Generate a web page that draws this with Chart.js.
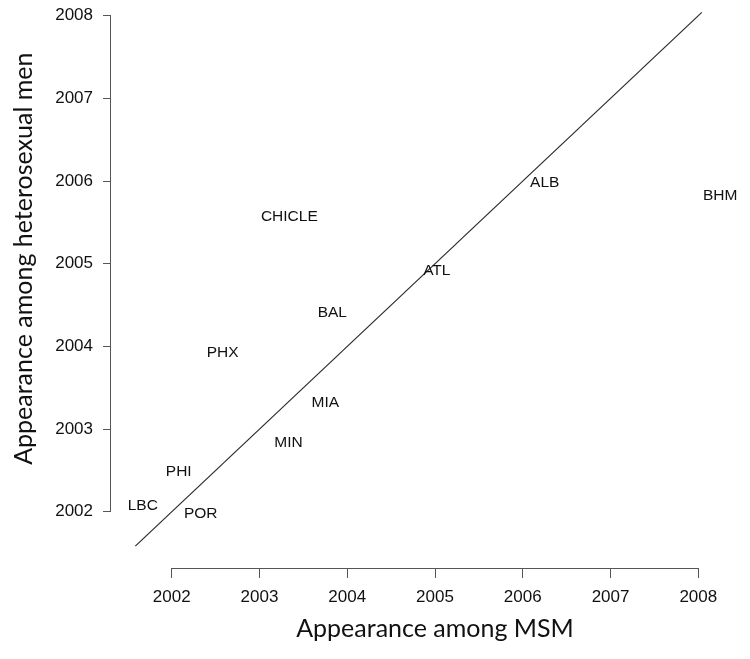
<!DOCTYPE html>
<html>
<head>
<meta charset="utf-8">
<script src="https://cdn.jsdelivr.net/npm/chart.js@4"></script>
<style>
  body { margin: 0; background: #fff; }
  #wrap { width: 750px; height: 659px; }
</style>
</head>
<body>
<div id="wrap"><canvas id="appearanceChart" width="750" height="659"></canvas></div>
<script>
// city codes, year of appearance among MSM (x) and among heterosexual men (y)
const cities = ['LBC', 'POR', 'PHI', 'MIN', 'MIA', 'PHX', 'BAL', 'ATL', 'CHICLE', 'ALB', 'BHM'];
const msmYear = [2001.67, 2002.33, 2002.08, 2003.33, 2003.75, 2002.58, 2003.83, 2005.02, 2003.34, 2006.25, 2008.25];
const heteroYear = [2002.07, 2001.98, 2002.49, 2002.83, 2003.32, 2003.92, 2004.41, 2004.91, 2005.57, 2005.98, 2005.82];
const yearTicks = [2002, 2003, 2004, 2005, 2006, 2007, 2008];
// y = x reference line
const diagonalEnds = [2001.585, 2008.04];

const tickFont = { family: "'Liberation Sans', Arial, sans-serif", size: 17 };
const titleFont = "25px Lato, 'Open Sans', sans-serif";

// R-style axes: line only between first and last tick, titles centred on that range
const axisLines = {
  id: 'axisLines',
  afterDraw(chart) {
    const ctx = chart.ctx;
    const xs = chart.scales.x, ys = chart.scales.y;
    const area = chart.chartArea;
    const first = yearTicks[0], last = yearTicks[yearTicks.length - 1];
    ctx.save();
    ctx.strokeStyle = '#555';
    ctx.lineWidth = 1;
    ctx.beginPath();
    ctx.moveTo(Math.round(area.left) - 0.5, ys.getPixelForValue(first));
    ctx.lineTo(Math.round(area.left) - 0.5, ys.getPixelForValue(last));
    ctx.moveTo(xs.getPixelForValue(first), Math.round(area.bottom) + 0.5);
    ctx.lineTo(xs.getPixelForValue(last), Math.round(area.bottom) + 0.5);
    ctx.stroke();

    ctx.fillStyle = '#111';
    ctx.font = titleFont;
    ctx.textAlign = 'center';
    ctx.textBaseline = 'middle';
    const mid = (first + last) / 2;
    ctx.fillText('Appearance among MSM', xs.getPixelForValue(mid), 629);
    ctx.translate(24, ys.getPixelForValue(mid) - 5);
    ctx.rotate(-Math.PI / 2);
    ctx.fillText('Appearance among heterosexual men', 0, 0);
    ctx.restore();
  }
};

const cityLabels = {
  id: 'cityLabels',
  afterDatasetsDraw(chart) {
    const ctx = chart.ctx;
    const meta = chart.getDatasetMeta(1);
    ctx.save();
    ctx.fillStyle = '#111';
    ctx.font = "15.5px 'Liberation Sans', Arial, sans-serif";
    ctx.textAlign = 'center';
    ctx.textBaseline = 'middle';
    meta.data.forEach(function(pt, i) {
      ctx.fillText(cities[i], pt.x, pt.y);
    });
    ctx.restore();
  }
};

const ctx = document.getElementById('appearanceChart').getContext('2d');

const appearanceChart = new Chart(ctx, {
  type: 'scatter',
  data: {
    datasets: [{
      type: 'line',
      data: diagonalEnds.map(v => ({ x: v, y: v })),
      borderColor: '#2a2a2a',
      borderWidth: 1.2,
      pointRadius: 0,
      fill: false
    }, {
      data: cities.map((c, i) => ({ x: msmYear[i], y: heteroYear[i] })),
      pointRadius: 0,
      showLine: false
    }]
  },
  options: {
    responsive: false,
    animation: false,
    layout: { padding: { top: 5, right: 5, left: 0, bottom: 0 } },
    plugins: {
      legend: { display: false },
      tooltip: { enabled: false }
    },
    scales: {
      x: {
        type: 'linear',
        min: 2001.308,
        max: 2008.532,
        afterBuildTicks: axis => { axis.ticks = yearTicks.map(v => ({ value: v })); },
        afterFit: axis => { axis.height = 91; axis.paddingLeft = 0; axis.paddingRight = 0; },
        border: { display: false },
        grid: { drawOnChartArea: false, tickLength: 10, color: '#555' },
        ticks: { padding: 9, color: '#111', font: tickFont, maxRotation: 0, autoSkip: false, callback: v => String(v) }
      },
      y: {
        type: 'linear',
        min: 2001.32,
        max: 2008.129,
        afterBuildTicks: axis => { axis.ticks = yearTicks.map(v => ({ value: v })); },
        afterFit: axis => { axis.width = 111; axis.paddingTop = 0; axis.paddingBottom = 0; },
        border: { display: false },
        grid: { drawOnChartArea: false, tickLength: 8, color: '#555' },
        ticks: { padding: 10, color: '#111', font: tickFont, autoSkip: false, callback: v => String(v) }
      }
    }
  },
  plugins: [axisLines, cityLabels]
});
</script>
</body>
</html>
